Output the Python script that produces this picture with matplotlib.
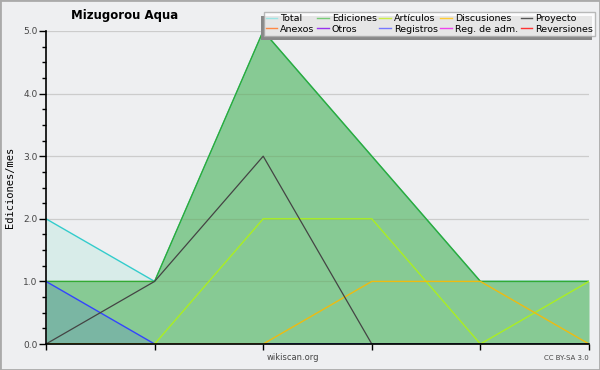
import matplotlib.pyplot as plt
from matplotlib.lines import Line2D
from matplotlib.ticker import MultipleLocator, NullFormatter
from matplotlib.patches import Rectangle

# datos (ediciones por mes)
meses = [0, 1, 2, 3, 4, 5]
total = [2, 1, 5, 3, 1, 1]
ediciones = [1, 1, 5, 3, 1, 1]
registros = [1, 0, 0, 0, 0, 0]
proyecto = [0, 1, 3, 0, 0, 0]
articulos = [0, 0, 2, 2, 0, 1]
discusiones = [0, 0, 0, 1, 1, 0]

leyenda_nombres = ["Total", "Anexos", "Ediciones", "Otros", "Artículos", "Registros",
                   "Discusiones", "Reg. de adm.", "Proyecto", "Reversiones"]
leyenda_colores = ["#99e5e5", "#ff8844", "#77cc77", "#9933ee", "#ccee44", "#7777ff",
                   "#ffcc33", "#ee44ee", "#555555", "#ff3333"]

bg = "#eeeff1"
fig = plt.figure(figsize=(6, 3.7), dpi=100, facecolor=bg)
ax = fig.add_axes([46 / 600, 26 / 370, 543 / 600, 313 / 370])
ax.set_facecolor(bg)

# rellenos
ax.fill_between(meses, total, color="#a8e8d8", alpha=0.3, lw=0, zorder=1)
ax.fill_between(meses, ediciones, color="#38aa40", alpha=0.5, lw=0, zorder=2)
ax.fill_between(meses, registros, color="#3344ff", alpha=0.15, lw=0, zorder=3)

# líneas
ax.plot(meses, total, color="#33cccc", lw=1, zorder=4)
ax.plot(meses, ediciones, color="#33aa33", lw=1, zorder=5)
ax.plot(meses, registros, color="#3344ff", lw=1, zorder=6)
ax.plot(meses, articulos, color="#aaee22", lw=1, zorder=6)
ax.plot(meses, discusiones, color="#eebb11", lw=1, zorder=6)
ax.plot(meses, proyecto, color="#444444", lw=0.9, zorder=7)

ax.set_xlim(0, 5)
ax.set_ylim(0, 5)
ax.set_xticks(meses)
ax.xaxis.set_major_formatter(NullFormatter())
ax.yaxis.set_major_locator(MultipleLocator(1))
ax.yaxis.set_minor_locator(MultipleLocator(0.25))
ax.set_yticklabels([f"{v:.1f}" for v in ax.get_yticks()])
ax.tick_params(axis="y", which="major", length=5, width=1, labelsize=6.5, labelcolor="#444444", pad=1)
ax.tick_params(axis="y", which="minor", length=3, width=1)
ax.tick_params(axis="x", which="major", length=4, width=1)
ax.grid(axis="y", color="#cccccc", lw=0.9, zorder=0)
for s in ["top", "right"]:
    ax.spines[s].set_visible(False)
for s in ["left", "bottom"]:
    ax.spines[s].set_linewidth(1.2)
    ax.spines[s].set_zorder(10)

ax.set_ylabel("Ediciones/mes", family="DejaVu Sans Mono", fontsize=7.5, labelpad=6)
fig.text(125 / 600, 1 - 15 / 370, "Mizugorou Aqua", ha="center", va="center",
         fontsize=8.5, fontweight="bold")
fig.text(293 / 600, 1 - 358 / 370, "wikiscan.org", ha="center", va="center",
         fontsize=6, color="#444444")
fig.text(589 / 600, 1 - 358 / 370, "CC BY-SA 3.0", ha="right", va="center",
         fontsize=5, color="#444444")

# leyenda
handles = [Line2D([0], [0], color=c, lw=1, label=n)
           for n, c in zip(leyenda_nombres, leyenda_colores)]
leg = fig.legend(handles=handles, ncol=5, loc="upper right",
                 bbox_to_anchor=(595 / 600, 1 - 12 / 370), fontsize=6.8,
                 frameon=True, fancybox=False, shadow=False, borderpad=0.25,
                 handlelength=1.2, handletextpad=0.3, columnspacing=0.3,
                 labelspacing=0.15, borderaxespad=0)
leg.get_frame().set_edgecolor("#aaaaaa")
leg.get_frame().set_linewidth(1)
leg.get_frame().set_facecolor("white")

# sombra de la leyenda
fig.patches.append(Rectangle((261 / 600, 1 - 40 / 370), 331 / 600, 24 / 370,
                             transform=fig.transFigure, color="#888888", lw=0, zorder=1))

# borde de la figura
fig.patches.append(Rectangle((0, 0), 1, 1, transform=fig.transFigure, fill=False,
                             edgecolor="#aaaaaa", lw=2))

fig.savefig("out.png", dpi=100, facecolor=bg)
